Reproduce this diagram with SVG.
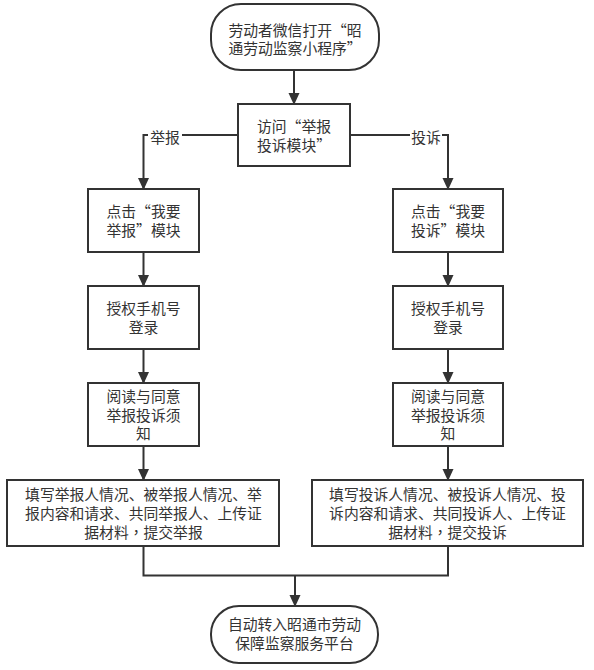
<svg xmlns="http://www.w3.org/2000/svg" width="594" height="670" viewBox="0 0 594 670">
<defs>
<marker id="arr" markerUnits="userSpaceOnUse" markerWidth="12" markerHeight="14" refX="11" refY="5.5" orient="auto" viewBox="0 0 12 11">
<path d="M0,0 L12,5.5 L0,11 Z" fill="#333333"/>
</marker>
<style>
.box{fill:#ffffff;stroke:#333333;stroke-width:2}
.t{font-family:"Noto Sans CJK SC","Noto Sans",sans-serif;font-size:14.8px;fill:#333333;text-anchor:middle}
.tc{font-family:"Noto Sans CJK TC","Noto Sans CJK SC",sans-serif}
.c{fill:none;stroke:#333333;stroke-width:2}
.ca{fill:none;stroke:#333333;stroke-width:2;marker-end:url(#arr)}
</style>
</defs>
<rect width="594" height="670" fill="#ffffff"/>
<g id="connectors">
<path class="ca" d="M294,70 V104"/>
<path class="ca" d="M238,135 H143.5 V189"/>
<path class="ca" d="M350,135 H448 V189"/>
<path class="ca" d="M143.5,252 V286"/>
<path class="ca" d="M143.5,349 V383"/>
<path class="ca" d="M143.5,446 V480"/>
<path class="ca" d="M448,252 V286"/>
<path class="ca" d="M448,349 V383"/>
<path class="ca" d="M448,446 V480"/>
<path class="c" d="M143.5,546 V575.5 H448 V546"/>
<path class="ca" d="M295,575.5 V606"/>
<rect x="148" y="127" width="34" height="19" fill="#ffffff"/>
<text class="t" x="165" y="143">举报</text>
<rect x="410" y="127" width="32" height="19" fill="#ffffff"/>
<text class="t" x="426" y="143">投诉</text>
</g>
<g id="start">
<rect class="box" x="211" y="4" width="168" height="66" rx="30" ry="30"/>
<text class="t" x="295" y="35.6">劳动者微信打开“昭</text>
<text class="t" x="295" y="54">通劳动监察小程序”</text>
</g>
<g id="visit">
<rect class="box" x="238" y="104" width="112" height="62"/>
<text class="t" x="294" y="132.2">访问“举报</text>
<text class="t" x="294" y="150.6">投诉模块”</text>
</g>
<g id="l1">
<rect class="box" x="88" y="189" width="111" height="63"/>
<text class="t" x="143.5" y="217.2">点击“我要</text>
<text class="t" x="143.5" y="235.6">举报”模块</text>
</g>
<g id="l2">
<rect class="box" x="88" y="286" width="111" height="63"/>
<text class="t" x="143.5" y="314.2">授权手机号</text>
<text class="t" x="143.5" y="332.6">登录</text>
</g>
<g id="l3">
<rect class="box" x="88" y="383" width="111" height="63"/>
<text class="t" x="143.5" y="402.3">阅读与同意</text>
<text class="t" x="143.5" y="420.6">举报投诉须</text>
<text class="t" x="143.5" y="438.9">知</text>
</g>
<g id="l4">
<rect class="box" x="7" y="480" width="272" height="66"/>
<text class="t" x="143.5" y="499.9">填写举报人情况、被举报人情况、举</text>
<text class="t" x="143.5" y="518.7">报内容和请求、共同举报人、上传证</text>
<text class="t" x="143.5" y="537.5">据材料<tspan class="tc">，</tspan>提交举报</text>
</g>
<g id="r1">
<rect class="box" x="393" y="189" width="110" height="63"/>
<text class="t" x="448" y="217.2">点击“我要</text>
<text class="t" x="448" y="235.6">投诉”模块</text>
</g>
<g id="r2">
<rect class="box" x="393" y="286" width="110" height="63"/>
<text class="t" x="448" y="314.2">授权手机号</text>
<text class="t" x="448" y="332.6">登录</text>
</g>
<g id="r3">
<rect class="box" x="393" y="383" width="110" height="63"/>
<text class="t" x="448" y="402.3">阅读与同意</text>
<text class="t" x="448" y="420.6">举报投诉须</text>
<text class="t" x="448" y="438.9">知</text>
</g>
<g id="r4">
<rect class="box" x="312" y="480" width="271" height="66"/>
<text class="t" x="447.5" y="499.9">填写投诉人情况、被投诉人情况、投</text>
<text class="t" x="447.5" y="518.7">诉内容和请求、共同投诉人、上传证</text>
<text class="t" x="447.5" y="537.5">据材料<tspan class="tc">，</tspan>提交投诉</text>
</g>
<g id="end">
<rect class="box" x="211" y="606" width="167" height="57" rx="28" ry="28"/>
<text class="t" x="294.5" y="630.3">自动转入昭通市劳动</text>
<text class="t" x="294.5" y="648.6">保障监察服务平台</text>
</g>
</svg>
